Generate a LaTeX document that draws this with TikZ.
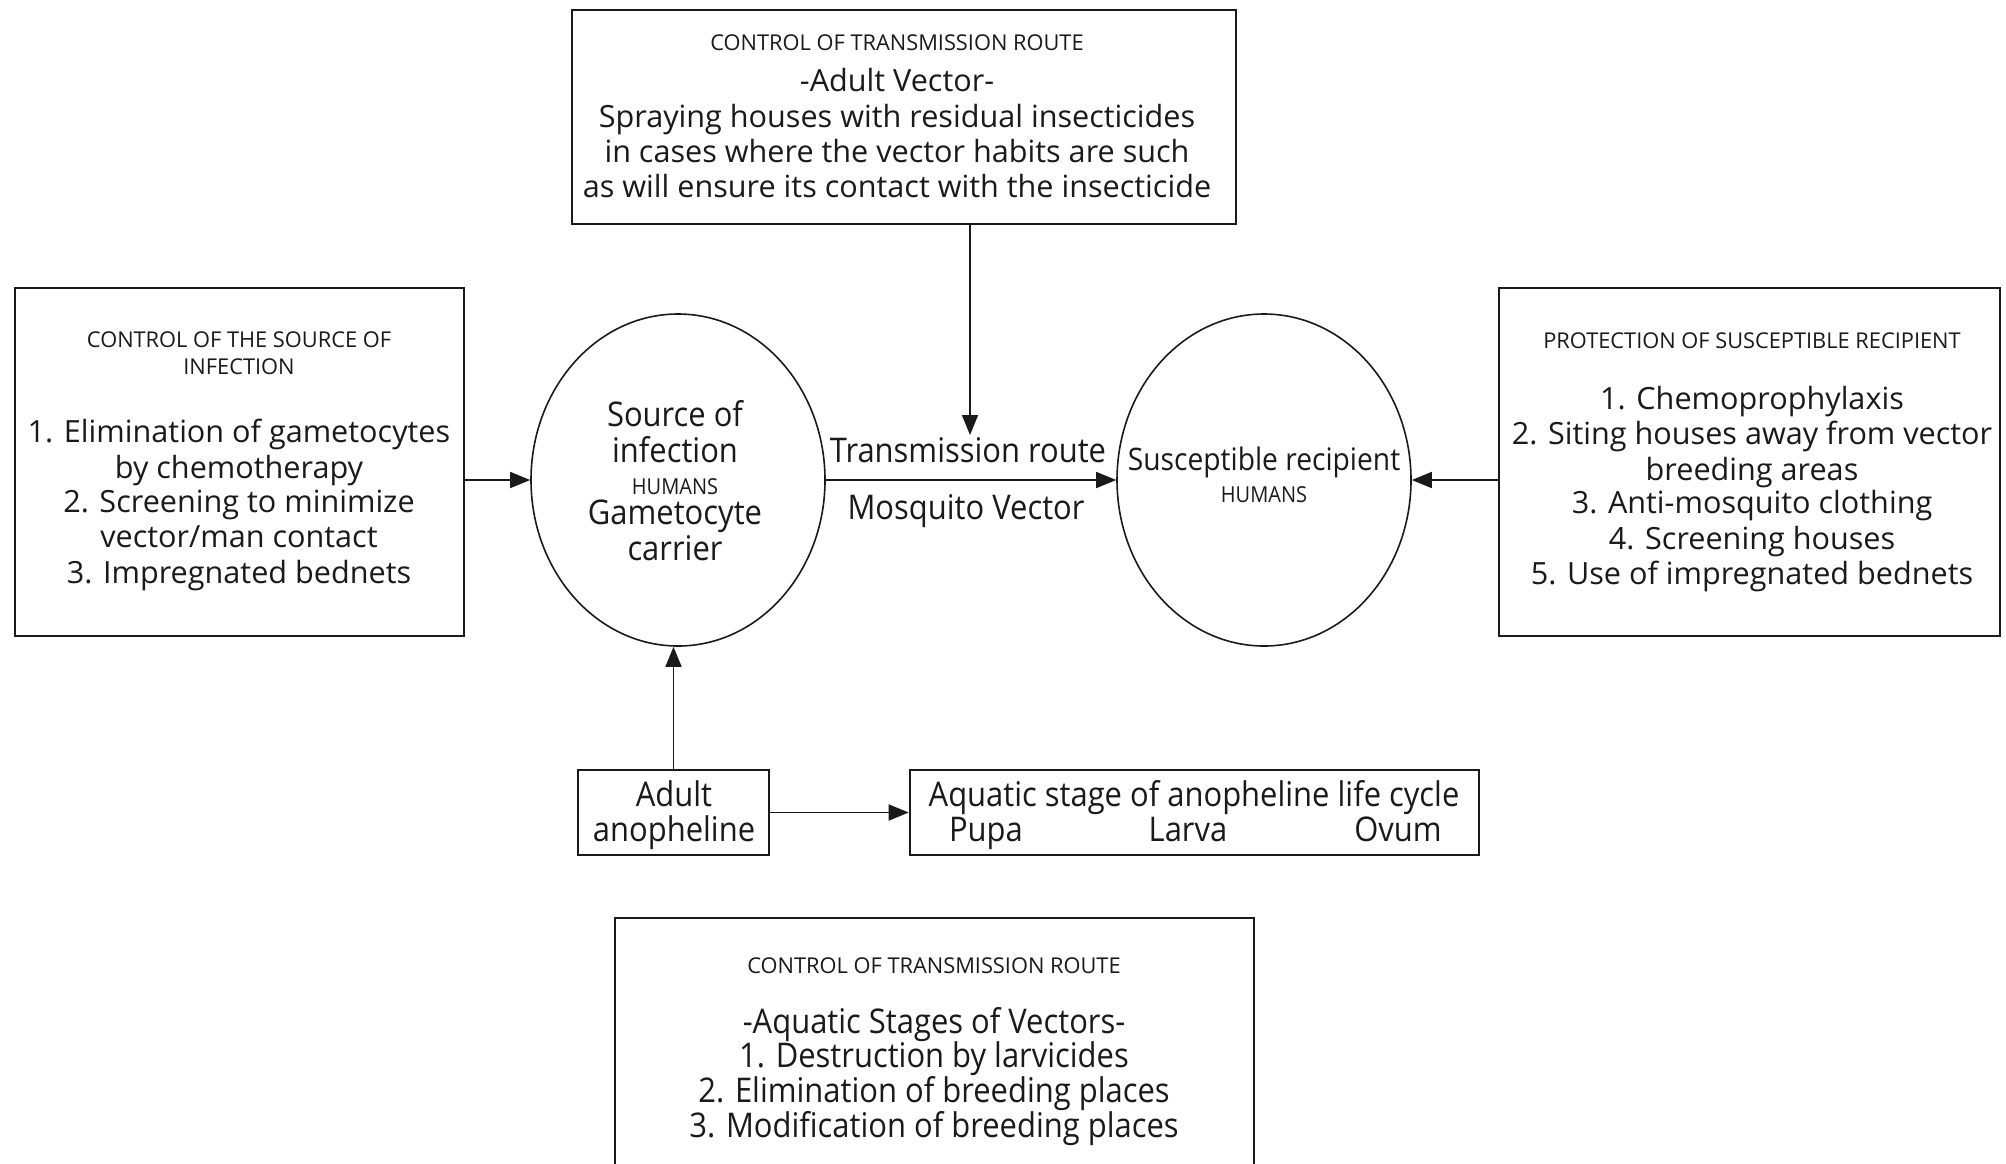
\documentclass[tikz,border=0pt]{standalone}
\usepackage{fontspec}
\setmainfont{Open Sans}
\usetikzlibrary{arrows.meta,shapes.geometric,fit}
\definecolor{ink}{HTML}{1A1A1A}
\tikzset{
 frame/.style={draw=ink, line width=1.3pt, inner sep=0pt},
 oval/.style={draw=ink, ellipse, line width=0.8pt, minimum width=147pt, minimum height=166pt, inner sep=0pt},
 conn/.style={draw=ink, line width=0.8pt, -{Triangle[length=10pt,width=8pt]}},
 lbl/.style={text=ink, anchor=mid, inner sep=0pt, yshift=-3.5pt},
 body/.style={lbl, font=\fontsize{15.3}{18}\selectfont},
 caps/.style={lbl, font=\fontsize{10.9}{13}\selectfont},
 tinycap/.style={lbl, font=\fontsize{11}{13}\selectfont},
 cond/.style={lbl, font=\fontsize{17}{20}\selectfont},
 condsm/.style={lbl, font=\fontsize{15.5}{18}\selectfont},
}
\newcommand\narrow[1]{\scalebox{0.91}[1]{#1}}
\begin{document}
\begin{tikzpicture}[x=0.5pt,y=-0.5pt]
\fill[white] (0,0) rectangle (2006,1163);
\clip (0,0) rectangle (2006,1163);
% top box
\node[frame, fit={(572,10)(1236,224)}] (topbox) {};
\node[caps] (t1) at (897,38) {CONTROL OF TRANSMISSION ROUTE};
\node[body] (t2) at (897,79) {-Adult Vector-};
\node[body] (t3) at (897,115) {Spraying houses with residual insecticides};
\node[body] (t4) at (897,150) {in cases where the vector habits are such};
\node[body] (t5) at (897,185) {as will ensure its contact with the insecticide};
% left box
\node[frame, fit={(15,288)(464,636)}] (lbox) {};
\node[caps] (l1) at (239,335) {CONTROL OF THE SOURCE OF};
\node[caps] (l2) at (239,362) {INFECTION};
\node[body] (l3) at (239,430) {1. Elimination of gametocytes};
\node[body] (l4) at (239,466) {by chemotherapy};
\node[body] (l5) at (239,500) {2. Screening to minimize};
\node[body] (l6) at (239,535) {vector/man contact};
\node[body] (l7) at (239,571) {3. Impregnated bednets};
% right box
\node[frame, fit={(1499,288)(2000,636)}] (rbox) {};
\node[caps] (r1) at (1752,336) {PROTECTION OF SUSCEPTIBLE RECIPIENT};
\node[body] (r2) at (1752,397) {1. Chemoprophylaxis};
\node[body] (r3) at (1752,432) {2. Siting houses away from vector};
\node[body] (r4) at (1752,468) {breeding areas};
\node[body] (r5) at (1752,501) {3. Anti-mosquito clothing};
\node[body] (r6) at (1752,537) {4. Screening houses};
\node[body] (r7) at (1752,572) {5. Use of impregnated bednets};
% ellipses
\node[oval] (lell) at (678,480) {};
\node[cond] (e1) at (675,414) {\narrow{Source of}};
\node[cond] (e2) at (675,450) {\narrow{infection}};
\node[tinycap] (e3) at (675,482) {\narrow{HUMANS}};
\node[cond] (e4) at (675,512) {\narrow{Gametocyte}};
\node[cond] (e5) at (675,548) {\narrow{carrier}};
\node[oval] (rell) at (1264,480) {};
\node[condsm] (s1) at (1264,458) {\narrow{Susceptible recipient}};
\node[tinycap] (s2) at (1264,490) {\narrow{HUMANS}};
% transmission route labels
\node[cond] (m1) at (968,450) {\narrow{Transmission route}};
\node[cond] (m2) at (966,507) {\narrow{Mosquito Vector}};
\coordinate (trtip) at (970,435);
% adult anopheline
\node[frame, fit={(578,770)(769,855)}] (adult) {};
\node[cond] (a1) at (674,794) {\narrow{Adult}};
\node[cond] (a2) at (674,829) {\narrow{anopheline}};
% aquatic stage
\node[frame, fit={(910,770)(1479,855)}] (aquatic) {};
\node[cond] (q1) at (1194,794) {\narrow{Aquatic stage of anopheline life cycle}};
\node[cond] (q2) at (986,829) {\narrow{Pupa}};
\node[cond] (q3) at (1188,829) {\narrow{Larva}};
\node[cond] (q4) at (1398,829) {\narrow{Ovum}};
% bottom box
\node[frame, fit={(615,918)(1254,1200)}] (bbox) {};
\node[caps] (b1) at (934,961) {CONTROL OF TRANSMISSION ROUTE};
\node[cond] (b2) at (934,1021) {\narrow{-Aquatic Stages of Vectors-}};
\node[cond] (b3) at (934,1055) {\narrow{1. Destruction by larvicides}};
\node[cond] (b4) at (934,1090) {\narrow{2. Elimination of breeding places}};
\node[cond] (b5) at (934,1125) {\narrow{3. Modification of breeding places}};
% connectors
\draw[conn] (lbox.east |- lell.west) -- (lell.west);
\draw[conn] (lell.east) -- (rell.west);
\draw[conn] (rbox.west |- rell.east) -- (rell.east);
\draw[conn] (topbox.south -| trtip) -- (trtip);
\draw[conn] (adult.north) -- (adult.north |- lell.south);
\draw[conn] (adult.east) -- (aquatic.west);
\end{tikzpicture}
\end{document}
